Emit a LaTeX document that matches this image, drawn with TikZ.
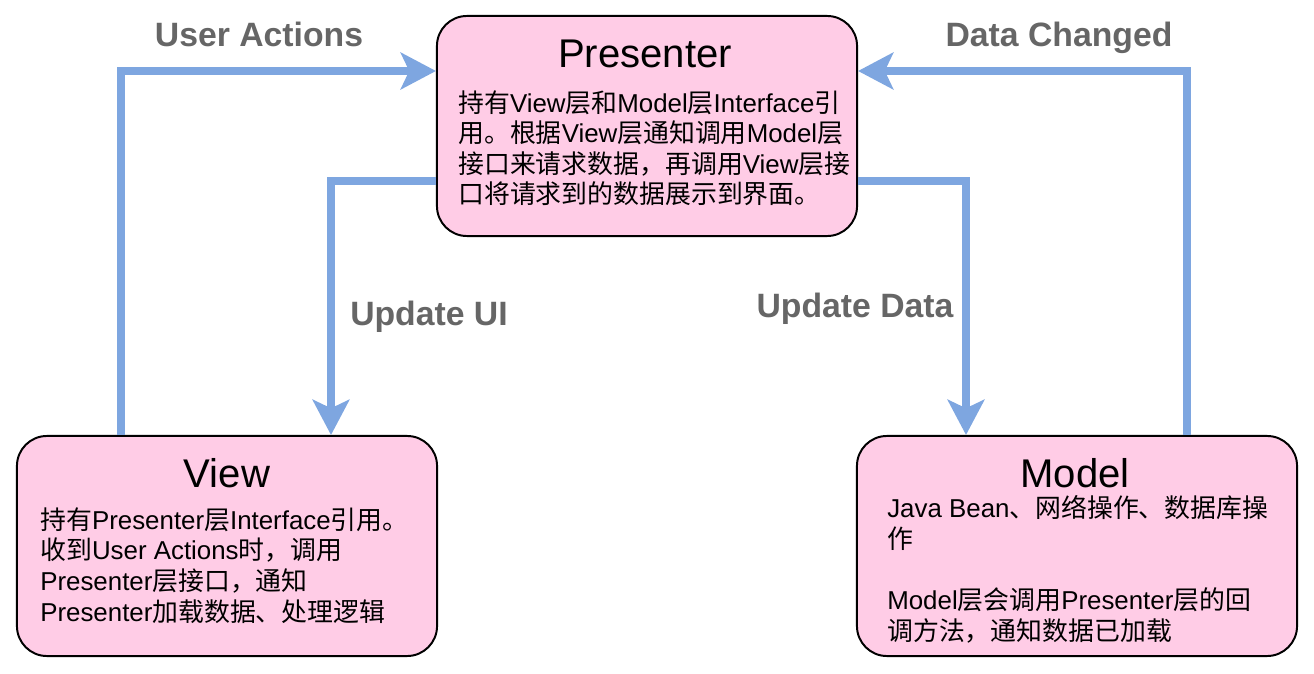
\documentclass[tikz,border=0pt]{standalone}
\usepackage{fontspec}
\setmainfont{Liberation Sans}
\newfontfamily\cjk{Noto Sans CJK SC}
\newcommand{\zh}[1]{{\cjk #1}}
\usetikzlibrary{arrows.meta}

\definecolor{boxpink}{HTML}{FFCCE6}
\definecolor{flowblue}{HTML}{7EA6E0}
\definecolor{labelgray}{HTML}{666666}

\begin{document}
\begin{tikzpicture}[x=0.025cm,y=-0.025cm,
  box/.style={draw=black,line width=1.4pt,fill=boxpink,rounded corners=0.75cm,minimum height=5.5cm},
  title/.style={anchor=base,font=\fontsize{28.5}{32}\selectfont},
  body/.style={anchor=base west,align=left,inner sep=0pt,font=\fontsize{18.4}{21.8}\selectfont},
  flow/.style={draw=flowblue,line width=5.7pt,-{Stealth[length=25pt,width=26pt,inset=6pt]}},
  lbl/.style={anchor=base,text=labelgray,font=\fontsize{24}{28}\selectfont\bfseries}]

\useasboundingbox (0,0) rectangle (1314,674);

\node[box,minimum width=10.5cm] (pres) at (647,126) {};
\node[box,minimum width=10.5cm] (view) at (227,546) {};
\node[box,minimum width=11cm] (model) at (1077,546) {};

\node[title] (prestitle) at (645,68) {Presenter};
\node[title] (viewtitle) at (227,488) {View};
\node[title] (modeltitle) at (1075,488) {Model};

% base west = baseline of the last line
\node[body] (presbody) at (458,204) {\zh{持有}View\zh{层和}Model\zh{层}Interface\zh{引}\\
\zh{用。根据}View\zh{层通知调用}Model\zh{层}\\
\zh{接口来请求数据，再调用}View\zh{层接}\\
\zh{口将请求到的数据展示到界面。}};
\node[body] (viewbody) at (40,621) {\zh{持有}Presenter\zh{层}Interface\zh{引用。}\\
\zh{收到}User Actions\zh{时，调用}\\
Presenter\zh{层接口，通知}\\
Presenter\zh{加载数据、处理逻辑}};
\node[body] (modelbody) at (887,640) {Java Bean\zh{、网络操作、数据库操}\\
\zh{作}\\[21.8pt]
Model\zh{层会调用}Presenter\zh{层的回}\\
\zh{调方法，通知数据已加载}};

\coordinate (ua) at (121,71);
\coordinate (ui) at (331,181);
\coordinate (ud) at (966,181);
\coordinate (dc) at (1187,71);

\draw[flow] (view.north -| ua) |- (pres.west |- ua);
\draw[flow] (pres.west |- ui) -| (view.north -| ui);
\draw[flow] (pres.east |- ud) -| (model.north -| ud);
\draw[flow] (model.north -| dc) |- (pres.east |- dc);

\node[lbl] (ualbl) at (259,47) {User Actions};
\node[lbl] (dclbl) at (1059,47) {Data Changed};
\node[lbl] (uilbl) at (429,326) {Update UI};
\node[lbl] (udlbl) at (855,318) {Update Data};
\end{tikzpicture}
\end{document}
